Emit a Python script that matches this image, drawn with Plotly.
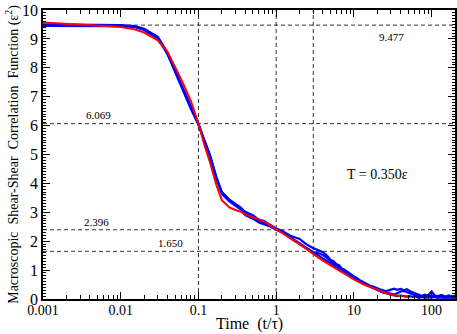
import plotly.graph_objects as go

# time grid (t/tau) for the smooth part
t_main = [0.001, 0.002, 0.003, 0.005, 0.007, 0.01, 0.015, 0.02, 0.03, 0.04,
          0.05, 0.06, 0.07, 0.08, 0.1, 0.12, 0.14, 0.17, 0.2, 0.25, 0.3, 0.35,
          0.4, 0.5, 0.6, 0.7, 0.8, 1.0, 1.2, 1.5, 1.8, 2.0, 2.3, 2.5, 3.0, 3.5,
          4.0, 4.5]

# time grid for the noisy tails
t_tail = [5, 5.5, 6, 6.5, 7, 7.5, 8, 8.5, 9, 10, 11, 12, 13, 14, 15, 16, 18,
          20, 22, 24, 26, 28, 30, 33, 36, 40, 44, 48, 52, 57, 62, 68, 75, 82,
          90, 100, 110, 120, 135, 150, 165, 180, 200]

t_fit = [0.001, 0.002, 0.003, 0.005, 0.007, 0.01, 0.015, 0.02, 0.03, 0.04,
         0.05, 0.06, 0.07, 0.08, 0.1, 0.12, 0.14, 0.17, 0.2, 0.25, 0.3, 0.35,
         0.4, 0.5, 0.6, 0.7, 0.8, 1.0, 1.2, 1.5, 2.0, 2.5, 3.0, 4.0, 5.0, 6.0,
         8.0, 10, 13, 16, 20, 25, 30, 40, 50]
fit = [9.57, 9.53, 9.50, 9.47, 9.44, 9.41, 9.33, 9.22, 8.95, 8.55,
       8.05, 7.6, 7.2, 6.85, 6.07, 5.3, 4.75, 3.95, 3.42, 3.17, 3.08, 3.02,
       2.93, 2.83, 2.76, 2.68, 2.58, 2.42, 2.3, 2.12, 1.9, 1.7, 1.56, 1.33,
       1.17, 1.05, 0.85, 0.68, 0.52, 0.42, 0.31, 0.22, 0.15, 0.1, 0.07]

run1 = [9.50, 9.50, 9.50, 9.50, 9.49, 9.48, 9.44, 9.35, 9.07, 8.52,
        7.92, 7.42, 7.0, 6.62, 6.06, 5.47, 5.0, 4.22, 3.7, 3.44, 3.3, 3.16,
        3.02, 2.9, 2.75, 2.7, 2.6, 2.44, 2.35, 2.2, 2.12, 2.08, 1.95, 1.88,
        1.76, 1.68, 1.62, 1.5]
run1_tail = [1.36, 1.3, 1.2, 1.16, 1.05, 1.02, 0.96, 0.92, 0.85, 0.78, 0.72,
             0.64, 0.6, 0.55, 0.5, 0.47, 0.42, 0.36, 0.33, 0.3, 0.27, 0.3,
             0.33, 0.36, 0.32, 0.35, 0.3, 0.34, 0.28, 0.24, 0.18, 0.14, 0.1,
             0.15, 0.12, 0.26, 0.12, 0.1, 0.14, 0.08, 0.12, 0.09, 0.11]

run2 = [9.47, 9.47, 9.47, 9.47, 9.47, 9.46, 9.42, 9.33, 9.05, 8.5,
        7.9, 7.4, 6.98, 6.6, 6.05, 5.45, 4.98, 4.2, 3.68, 3.42, 3.28, 3.14,
        2.96, 2.82, 2.68, 2.62, 2.56, 2.42, 2.32, 2.14, 2.02, 1.93, 1.82, 1.76,
        1.62, 1.58, 1.52, 1.42]
run2_tail = [1.3, 1.22, 1.15, 1.08, 1.02, 0.96, 0.93, 0.88, 0.83, 0.75, 0.69,
             0.62, 0.57, 0.52, 0.48, 0.44, 0.38, 0.33, 0.28, 0.25, 0.22, 0.2,
             0.18, 0.15, 0.2, 0.26, 0.28, 0.24, 0.2, 0.18, 0.12, 0.08, 0.1,
             0.06, 0.08, 0.12, 0.06, 0.1, 0.05, 0.08, 0.05, 0.1, 0.06]

run3 = [9.45, 9.45, 9.45, 9.45, 9.45, 9.44, 9.41, 9.31, 9.02, 8.47,
        7.86, 7.36, 6.95, 6.57, 6.03, 5.42, 4.95, 4.17, 3.64, 3.38, 3.24, 3.1,
        2.9, 2.78, 2.65, 2.6, 2.53, 2.4, 2.3, 2.12, 1.98, 1.9, 1.78, 1.72,
        1.6, 1.5, 1.4, 1.32]
run3_tail = [1.24, 1.18, 1.1, 1.04, 0.98, 0.94, 0.88, 0.84, 0.8, 0.72, 0.66,
             0.6, 0.54, 0.5, 0.46, 0.42, 0.36, 0.3, 0.26, 0.22, 0.2, 0.17,
             0.15, 0.12, 0.1, 0.12, 0.1, 0.08, 0.1, 0.07, 0.09, 0.05, 0.07,
             0.04, 0.06, 0.05, 0.08, 0.04, 0.06, 0.03, 0.06, 0.04, 0.05]

h_levels = [9.477, 6.069, 2.396, 1.650]
v_levels = [0.1, 1, 3]
x_ticks = [0.001, 0.01, 0.1, 1, 10, 100]
x_labels = ["0.001", "0.01", "0.1", "1", "10", "100"]

FONT = "Liberation Serif"

fig = go.Figure()

for h in h_levels:
    fig.add_scatter(x=[0.001, 200], y=[h, h], mode="lines",
                    line=dict(color="black", width=0.8, dash="4px,3px"),
                    hoverinfo="skip")
for v in v_levels:
    fig.add_scatter(x=[v, v], y=[0, 10], mode="lines",
                    line=dict(color="black", width=0.8, dash="4px,3px"),
                    hoverinfo="skip")

for run, tail in [(run1, run1_tail), (run2, run2_tail), (run3, run3_tail)]:
    fig.add_scatter(x=t_main + t_tail, y=run + tail, mode="lines",
                    line=dict(color="#0000ff", width=2.2))

fig.add_scatter(x=t_fit, y=fit, mode="lines",
                line=dict(color="#ff0000", width=2))

# value labels on the reference lines
for text, xp, yv in [("9.477", 0.88, 9.05), ("6.069", 0.10, 6.35),
                     ("2.396", 0.095, 2.68), ("1.650", 0.275, 1.93)]:
    fig.add_annotation(x=xp, y=yv, xref="paper", yref="y", text=text,
                       showarrow=False, font=dict(family=FONT, size=11))
fig.add_annotation(x=0.89, y=4.3, xref="paper", yref="y", text="T = 0.350ε",
                   showarrow=False, font=dict(family=FONT, size=14))
# x axis title, placed by hand so it sits just under the tick labels
fig.add_annotation(x=0.5, y=-0.088, xref="paper", yref="paper",
                   text="Time  (t/τ)", showarrow=False, yanchor="middle",
                   font=dict(family=FONT, size=16))

fig.update_layout(
    width=457, height=334,
    margin=dict(l=43, r=2, t=10, b=35),
    plot_bgcolor="white", paper_bgcolor="white",
    showlegend=False,
    font=dict(family=FONT, color="black"),
)
fig.update_xaxes(
    type="log", range=[-3, 2.301], automargin=False,
    tickvals=x_ticks, ticktext=x_labels,
    ticks="inside", ticklen=7, tickwidth=1, tickcolor="black",
    minor=dict(ticks="inside", ticklen=4, dtick="D1", tickcolor="black"),
    showline=True, linecolor="black", linewidth=1.5, mirror="allticks",
    showgrid=False, zeroline=False,
    tickfont=dict(size=14), ticklabelstandoff=-3,
)
fig.update_yaxes(
    range=[0, 10], dtick=1, automargin=False,
    ticks="inside", ticklen=7, tickwidth=1, tickcolor="black",
    minor=dict(ticks="inside", ticklen=3, dtick=0.1, tickcolor="black"),
    showline=True, linecolor="black", linewidth=1.5, mirror="allticks",
    showgrid=False, zeroline=False,
    tickfont=dict(size=16),
    title=dict(text="Macroscopic  Shear-Shear  Correlation  Function (ε<sup>2</sup>)",
               font=dict(size=14), standoff=0),
)

# drop the default page margin so the 457x334 figure fills the window
fig.write_html("out.html",
               config={"displayModeBar": False},
               post_script="document.body.style.margin='0';"
                           "document.body.style.overflow='hidden';")
